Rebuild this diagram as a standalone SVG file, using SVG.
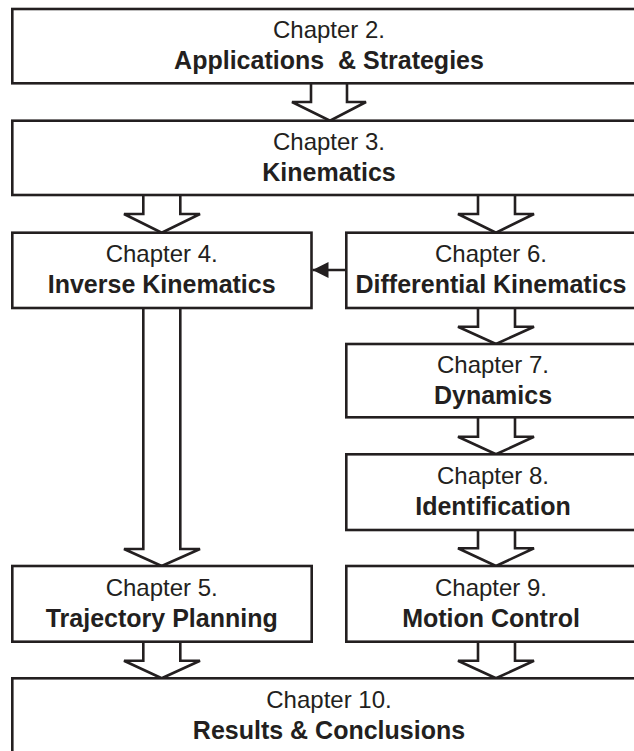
<svg xmlns="http://www.w3.org/2000/svg" width="634" height="751" viewBox="0 0 634 751">
<style>
.box{fill:#fff;stroke:#231f20;stroke-width:2.6}
.arr{fill:#fff;stroke:#231f20;stroke-width:2.6;stroke-linejoin:miter}
.t1{font-family:"Liberation Sans",Arial,sans-serif;font-size:24px;fill:#231f20;text-anchor:middle}
.t2{font-family:"Liberation Sans",Arial,sans-serif;font-size:25px;font-weight:bold;fill:#231f20;text-anchor:middle}
</style>
<defs>
<marker id="tri" viewBox="0 0 10 10" refX="10" refY="5" markerWidth="16" markerHeight="16" markerUnits="userSpaceOnUse" orient="auto">
<path d="M0,0 L10,5 L0,10 z" fill="#231f20"/>
</marker>
</defs>
<rect width="634" height="751" fill="#fff"/>
<g id="connectors">
<polyline class="arr" points="311,82 311,102 292,102 330,120.7 366,102 347,102 347,82"/>
<polyline class="arr" points="143.3,194 143.3,214 124,214 161.7,232.7 200,214 180.3,214 180.3,194"/>
<polyline class="arr" points="478,194 478,214 458,214 496,232.7 534,214 515,214 515,194"/>
<line x1="346" y1="270" x2="312.5" y2="270" stroke="#231f20" stroke-width="2.6" marker-end="url(#tri)"/>
<polyline class="arr" points="143.3,307 143.3,549 124,549 161.7,566 200,549 180.3,549 180.3,307"/>
<polyline class="arr" points="478,307 478,326.7 458,326.7 496,344 534,326.7 515,326.7 515,307"/>
<polyline class="arr" points="478,416 478,436.7 458,436.7 496,454.3 534,436.7 515,436.7 515,416"/>
<polyline class="arr" points="478,529 478,548.3 458,548.3 496,566 534,548.3 515,548.3 515,529"/>
<polyline class="arr" points="143.3,640.5 143.3,660.7 124,660.7 161.7,678.3 200,660.7 180.3,660.7 180.3,640.5"/>
<polyline class="arr" points="478,640.5 478,660.7 458,660.7 496,678.3 534,660.7 515,660.7 515,640.5"/>
</g>
<g id="ch2">
<rect class="box" x="12.3" y="9" width="630" height="74.3"/>
<text class="t1" x="329" y="38">Chapter 2.</text>
<text class="t2" x="329" y="69" xml:space="preserve">Applications  &amp; Strategies</text>
</g>
<g id="ch3">
<rect class="box" x="12.3" y="120.7" width="630" height="74.3"/>
<text class="t1" x="329" y="150">Chapter 3.</text>
<text class="t2" x="329" y="181">Kinematics</text>
</g>
<g id="ch4">
<rect class="box" x="12.3" y="232.7" width="299.2" height="75.3"/>
<text class="t1" x="161.7" y="262">Chapter 4.</text>
<text class="t2" x="161.7" y="293">Inverse Kinematics</text>
</g>
<g id="ch6">
<rect class="box" x="346.3" y="232.7" width="296" height="75.3"/>
<text class="t1" x="491" y="262">Chapter 6.</text>
<text class="t2" x="491" y="293">Differential Kinematics</text>
</g>
<g id="ch7">
<rect class="box" x="346.3" y="344" width="296" height="73.3"/>
<text class="t1" x="493" y="373">Chapter 7.</text>
<text class="t2" x="493" y="404">Dynamics</text>
</g>
<g id="ch8">
<rect class="box" x="346.3" y="454.3" width="296" height="75.7"/>
<text class="t1" x="493" y="484">Chapter 8.</text>
<text class="t2" x="493" y="515">Identification</text>
</g>
<g id="ch5">
<rect class="box" x="12.3" y="566" width="299.4" height="75.7"/>
<text class="t1" x="161.7" y="596">Chapter 5.</text>
<text class="t2" x="161.7" y="627">Trajectory Planning</text>
</g>
<g id="ch9">
<rect class="box" x="346.3" y="566" width="296" height="75.7"/>
<text class="t1" x="491" y="596">Chapter 9.</text>
<text class="t2" x="491" y="627">Motion Control</text>
</g>
<g id="ch10">
<rect class="box" x="12.3" y="678.3" width="630" height="90"/>
<text class="t1" x="329" y="708">Chapter 10.</text>
<text class="t2" x="329" y="739">Results &amp; Conclusions</text>
</g>
</svg>
